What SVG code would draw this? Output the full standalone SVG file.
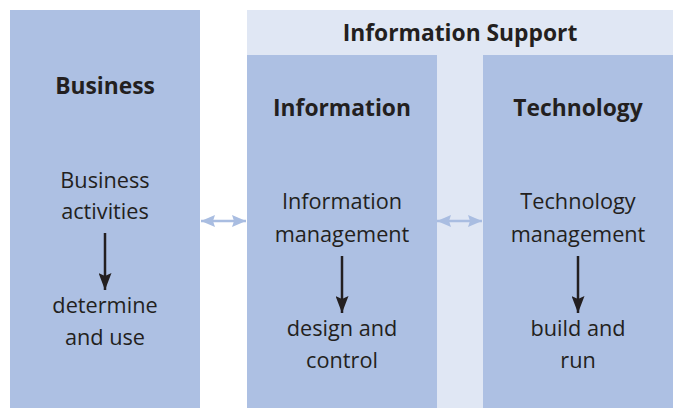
<svg xmlns="http://www.w3.org/2000/svg" width="680" height="408" viewBox="0 0 680 408">
<defs>
<style>
.box{fill:#adc0e3}
.bg{fill:#e0e7f4}
.t{font-family:"Open Sans","Liberation Sans",sans-serif;font-size:21.7px;fill:#231f20;text-anchor:middle}
.b{font-weight:bold;font-size:22.8px}
.dn{stroke:#231f20;stroke-width:2.5;fill:none}
.lr{stroke:#a9bde1;stroke-width:2.5;fill:none}
</style>
<marker id="ah" viewBox="0 0 17 13" refX="17" refY="6.5" markerWidth="17" markerHeight="13" markerUnits="userSpaceOnUse" orient="auto">
<path d="M0,0 L17,6.5 L0,13 L3,6.5 Z" fill="#231f20"/>
</marker>
<marker id="lh" viewBox="0 0 14 12" refX="14" refY="6" markerWidth="14" markerHeight="12" markerUnits="userSpaceOnUse" orient="auto-start-reverse">
<path d="M0,0 L14,6 L0,12 L2,6 Z" fill="#a9bde1"/>
</marker>
</defs>
<rect width="680" height="408" fill="#ffffff"/>
<g id="business">
<rect class="box" x="10" y="10" width="190" height="398"/>
<text class="t b" x="105" y="94">Business</text>
<text class="t" x="105" y="188">Business</text>
<text class="t" x="105" y="219">activities</text>
<text class="t" x="105" y="313">determine</text>
<text class="t" x="105" y="345">and use</text>
</g>
<g id="information-support">
<rect class="bg" x="247" y="10" width="426" height="398"/>
<text class="t b" x="460" y="41">Information Support</text>
</g>
<g id="information">
<rect class="box" x="247" y="55" width="190" height="353"/>
<text class="t b" x="342" y="116">Information</text>
<text class="t" x="342" y="209">Information</text>
<text class="t" x="342" y="242">management</text>
<text class="t" x="342" y="336">design and</text>
<text class="t" x="342" y="368">control</text>
</g>
<g id="technology">
<rect class="box" x="483" y="55" width="190" height="353"/>
<text class="t b" x="578" y="116">Technology</text>
<text class="t" x="578" y="209">Technology</text>
<text class="t" x="578" y="242">management</text>
<text class="t" x="578" y="336">build and</text>
<text class="t" x="578" y="368">run</text>
</g>
<g id="connectors">
<line class="dn" x1="105" y1="233" x2="105" y2="290" marker-end="url(#ah)"/>
<line class="dn" x1="342" y1="256" x2="342" y2="313" marker-end="url(#ah)"/>
<line class="dn" x1="578" y1="256" x2="578" y2="313" marker-end="url(#ah)"/>
<line class="lr" x1="201" y1="221" x2="246" y2="221" marker-start="url(#lh)" marker-end="url(#lh)"/>
<line class="lr" x1="437" y1="221" x2="482" y2="221" marker-start="url(#lh)" marker-end="url(#lh)"/>
</g>
</svg>
